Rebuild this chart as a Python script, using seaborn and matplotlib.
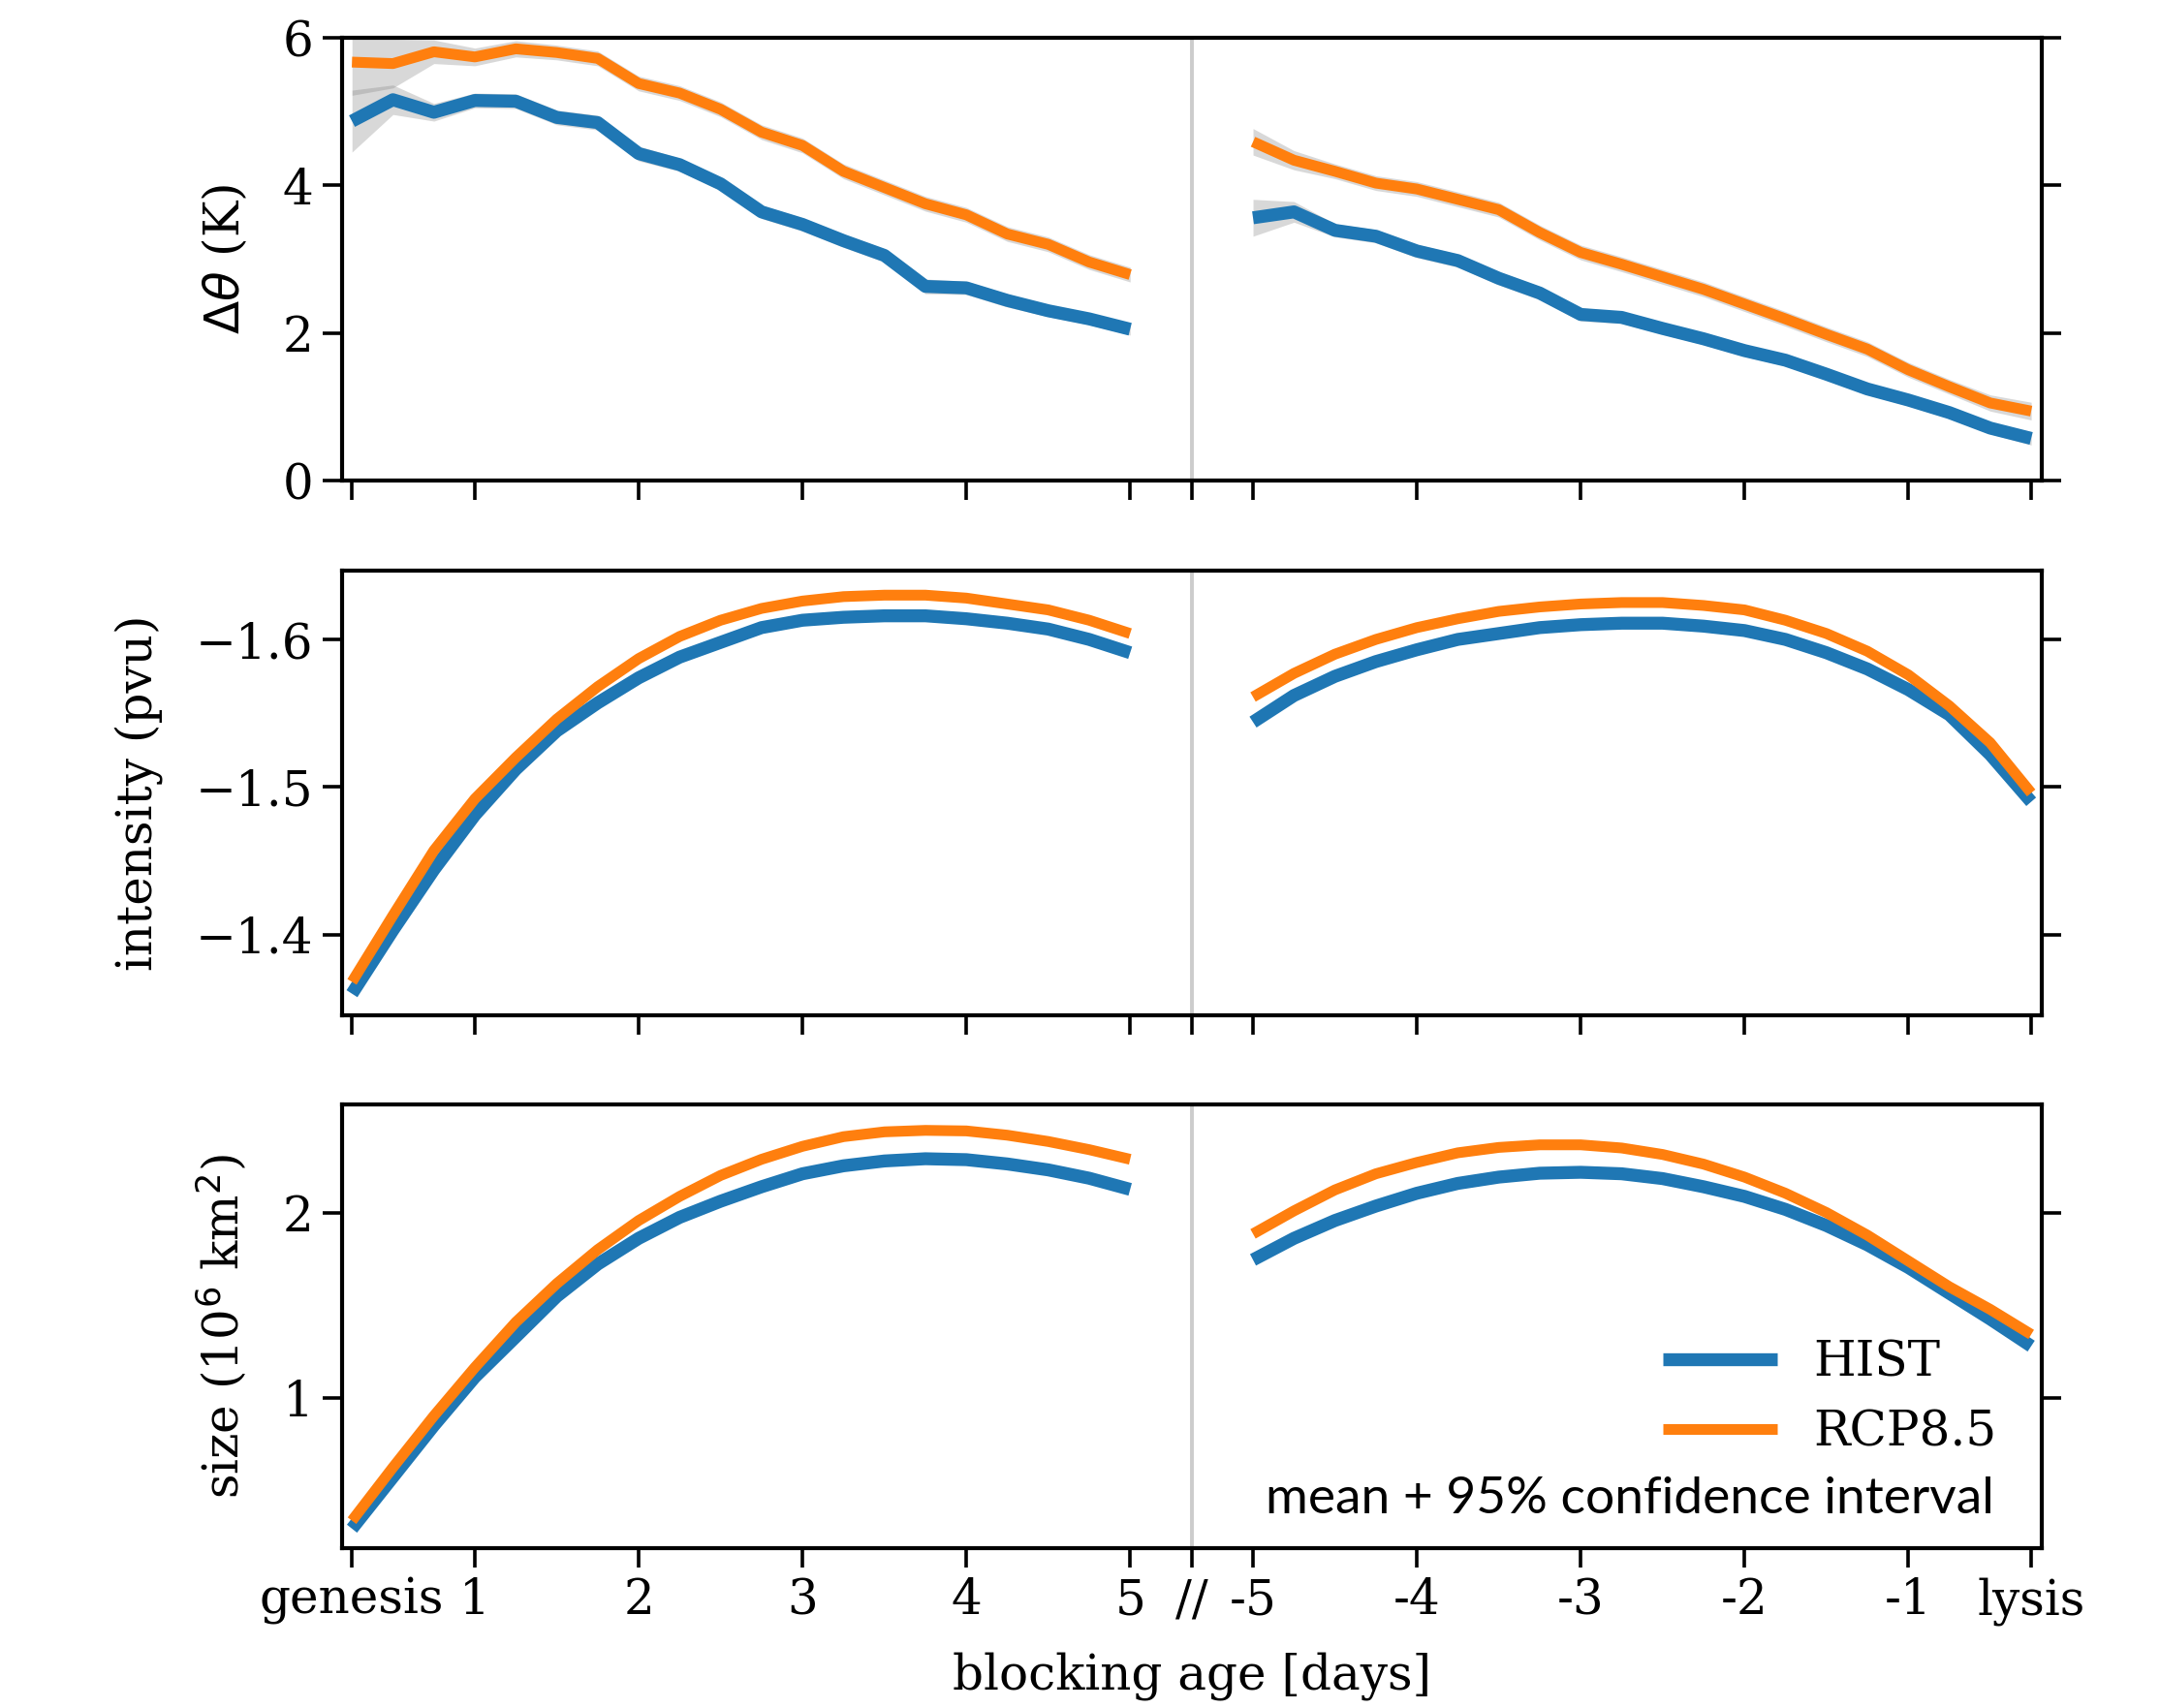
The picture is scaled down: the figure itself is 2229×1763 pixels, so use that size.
import numpy as np
import pandas as pd
import matplotlib
matplotlib.use("Agg")
import matplotlib.pyplot as plt
import seaborn as sns

# x grid: 6-hourly steps after genesis and before lysis
gen_days = np.arange(0.25, 5.01, 0.25)
lys_days = np.arange(-5.0, -0.24, 0.25)

tick_pos = [0.25, 1, 2, 3, 4, 5, 5.375, 5.75, 6.75, 7.75, 8.75, 9.75, 10.5]
tick_labels = ['genesis', '1', '2', '3', '4', '5', '//', '-5', '-4', '-3', '-2', '-1', 'lysis']

runs = ['HIST', 'RCP8.5']

# potential temperature anomaly (K)
hist_dtheta_gen = [4.87, 5.16, 4.99, 5.15, 5.14, 4.92, 4.85, 4.43, 4.28, 4.02,
                   3.64, 3.47, 3.25, 3.05, 2.63, 2.61, 2.44, 2.30, 2.19, 2.05]
rcp_dtheta_gen = [5.67, 5.65, 5.81, 5.74, 5.85, 5.80, 5.72, 5.38, 5.25, 5.03,
                  4.72, 4.54, 4.19, 3.97, 3.75, 3.60, 3.34, 3.20, 2.96, 2.79]
hist_dtheta_lys = [3.56, 3.64, 3.39, 3.31, 3.11, 2.98, 2.74, 2.54, 2.25, 2.21,
                   2.06, 1.92, 1.76, 1.63, 1.44, 1.24, 1.09, 0.92, 0.71, 0.57]
rcp_dtheta_lys = [4.59, 4.34, 4.19, 4.03, 3.95, 3.81, 3.67, 3.36, 3.09, 2.93,
                  2.76, 2.59, 2.39, 2.19, 1.98, 1.78, 1.50, 1.27, 1.05, 0.94]

# half width of the 95% confidence interval
hist_ci_gen = [0.42, 0.20, 0.12, 0.10, 0.10, 0.10, 0.10, 0.10, 0.09, 0.09,
               0.09, 0.09, 0.09, 0.09, 0.10, 0.09, 0.09, 0.08, 0.08, 0.08]
rcp_ci_gen = [0.45, 0.33, 0.16, 0.12, 0.11, 0.10, 0.10, 0.10, 0.10, 0.10,
              0.10, 0.10, 0.10, 0.10, 0.10, 0.10, 0.10, 0.10, 0.10, 0.10]
hist_ci_lys = [0.25, 0.14, 0.09, 0.09, 0.09, 0.09, 0.09, 0.09, 0.09, 0.08,
               0.08, 0.08, 0.08, 0.08, 0.08, 0.08, 0.08, 0.08, 0.08, 0.09]
rcp_ci_lys = [0.18, 0.13, 0.10, 0.10, 0.10, 0.10, 0.10, 0.10, 0.10, 0.10,
              0.10, 0.10, 0.10, 0.10, 0.10, 0.10, 0.10, 0.10, 0.11, 0.12]

# intensity (pvu)
hist_int_gen = [-1.360, -1.403, -1.444, -1.481, -1.512, -1.538, -1.557, -1.574, -1.588, -1.598,
                -1.608, -1.613, -1.615, -1.616, -1.616, -1.614, -1.611, -1.607, -1.600, -1.591]
rcp_int_gen = [-1.368, -1.413, -1.457, -1.492, -1.520, -1.546, -1.568, -1.587, -1.602, -1.613,
               -1.621, -1.626, -1.629, -1.630, -1.630, -1.628, -1.624, -1.620, -1.613, -1.604]
hist_int_lys = [-1.544, -1.562, -1.575, -1.585, -1.593, -1.600, -1.604, -1.608, -1.610, -1.611,
                -1.611, -1.609, -1.606, -1.600, -1.591, -1.580, -1.566, -1.549, -1.522, -1.490]
rcp_int_lys = [-1.561, -1.577, -1.590, -1.600, -1.608, -1.614, -1.619, -1.622, -1.624, -1.625,
               -1.625, -1.623, -1.620, -1.613, -1.604, -1.592, -1.576, -1.555, -1.530, -1.496]

# size (10^6 km^2)
hist_size_gen = [0.296, 0.574, 0.852, 1.113, 1.330, 1.548, 1.722, 1.861, 1.974, 2.061,
                 2.139, 2.209, 2.252, 2.278, 2.290, 2.285, 2.262, 2.230, 2.185, 2.125]
rcp_size_gen = [0.339, 0.626, 0.904, 1.165, 1.409, 1.617, 1.800, 1.957, 2.087, 2.200,
                2.287, 2.357, 2.409, 2.435, 2.443, 2.440, 2.417, 2.383, 2.339, 2.287]
hist_size_lys = [1.745, 1.861, 1.957, 2.035, 2.104, 2.157, 2.191, 2.212, 2.217, 2.209,
                 2.183, 2.139, 2.087, 2.017, 1.930, 1.826, 1.704, 1.565, 1.426, 1.280]
rcp_size_lys = [1.885, 2.009, 2.122, 2.209, 2.270, 2.322, 2.351, 2.365, 2.365, 2.348,
                2.313, 2.261, 2.191, 2.104, 2.000, 1.878, 1.739, 1.600, 1.478, 1.343]

colors = {'HIST': '#1f77b4', 'RCP8.5': '#ff7f0e'}
widths = {'HIST': 4.8, 'RCP8.5': 4.0}
gap_pos = 5.375
lys_offset = 10.75

sns.set_style('ticks')
plt.rcParams['font.family'] = ['DejaVu Serif']
plt.rcParams['mathtext.fontset'] = 'dejavusans'
plt.rcParams['font.size'] = 18
plt.rcParams['axes.linewidth'] = 1.5
for k in ['text.color', 'axes.labelcolor', 'axes.edgecolor', 'xtick.color', 'ytick.color']:
    plt.rcParams[k] = 'black'

fig = plt.figure(figsize=(11.145, 8.815), dpi=200)
left, width = 0.1584, 0.7869
ax1 = fig.add_axes([left, 0.7187, width, 0.2592])
ax2 = fig.add_axes([left, 0.4056, width, 0.2603])
ax3 = fig.add_axes([left, 0.0936, width, 0.2598])

panels = [
    (ax1, {'HIST': (hist_dtheta_gen, hist_dtheta_lys), 'RCP8.5': (rcp_dtheta_gen, rcp_dtheta_lys)},
     {'HIST': (hist_ci_gen, hist_ci_lys), 'RCP8.5': (rcp_ci_gen, rcp_ci_lys)}),
    (ax2, {'HIST': (hist_int_gen, hist_int_lys), 'RCP8.5': (rcp_int_gen, rcp_int_lys)}, None),
    (ax3, {'HIST': (hist_size_gen, hist_size_lys), 'RCP8.5': (rcp_size_gen, rcp_size_lys)}, None),
]

for ax, series, cis in panels:
    ax.axvline(gap_pos, color='#cccccc', lw=1.4, zorder=0)
    for run in runs:
        segs = [(gen_days, series[run][0]), (lys_days + lys_offset, series[run][1])]
        if cis is not None:
            for (x, y), ci in zip(segs, cis[run]):
                y = np.asarray(y)
                ci = np.asarray(ci)
                ax.fill_between(x, y - ci, y + ci, color='gray', alpha=0.3, lw=0, zorder=1)
        for x, y in segs:
            df = pd.DataFrame({'pos': x, 'val': y})
            sns.lineplot(data=df, x='pos', y='val', color=colors[run], lw=widths[run],
                         solid_capstyle='butt', ax=ax, zorder=3, legend=False)
    ax.set_xlim(0.19, 10.565)
    ax.set_xticks(tick_pos)
    ax.set_xlabel('')
    ax.tick_params(axis='both', direction='out', length=7.2, width=1.3,
                   right=True, labelright=False, labelsize=18, colors='black')
    for s in ax.spines.values():
        s.set_visible(True)
        s.set_linewidth(1.5)
        s.set_color('black')

ax1.set_xticklabels([])
ax2.set_xticklabels([])
ax3.set_xticklabels(tick_labels)

ax1.set_ylim(0, 6)
ax1.set_yticks([0, 2, 4, 6])
ax1.set_ylabel(r'$\Delta\theta$ (K)', fontsize=18, labelpad=12)

ax2.set_ylim(-1.3454, -1.6466)
ax2.set_yticks([-1.6, -1.5, -1.4])
ax2.set_ylabel('intensity (pvu)', fontsize=18, labelpad=12)

ax3.set_ylim(0.191, 2.583)
ax3.set_yticks([1, 2])
ax3.set_ylabel('size (10$^6$ km$^2$)', fontsize=18, labelpad=12)
ax3.set_xlabel('blocking age [days]', fontsize=18, labelpad=10)

handles = [plt.Line2D([], [], color=colors[r], lw=widths[r], solid_capstyle='butt') for r in runs]
ax3.legend(handles, runs, loc='upper left', bbox_to_anchor=(1716 / 2229, 1 - 1382 / 1763),
           bbox_transform=fig.transFigure, frameon=False, fontsize=18,
           handlelength=2.35, handletextpad=0.75, labelspacing=0.45,
           borderpad=0, borderaxespad=0)
fig.text(2058 / 2229, 1 - 1562 / 1763, 'mean + 95% confidence interval',
         family=['Lato', 'DejaVu Sans'], fontsize=19.2, ha='right', va='baseline',
         color='black')

fig.savefig('out.png', dpi=200)
